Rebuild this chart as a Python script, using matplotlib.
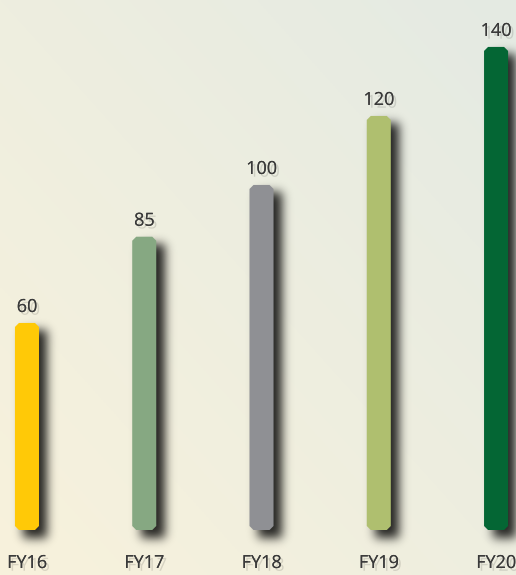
import numpy as np
import matplotlib
matplotlib.use("Agg")
import matplotlib.pyplot as plt
from matplotlib.patches import Polygon
import matplotlib.patheffects as pe

years = ["FY16", "FY17", "FY18", "FY19", "FY20"]
values = [60, 85, 100, 120, 140]
colors = ["#ffc907", "#86a882", "#8f9094", "#afbf6f", "#046634"]

W, H = 516, 575
fig = plt.figure(figsize=(W / 100, H / 100), dpi=100)

# background gradient (cream bottom-left -> pale grey-green top-right)
bg = fig.add_axes([0, 0, 1, 1], zorder=-2)
gx, gy = np.meshgrid(np.linspace(0, 1, 200), np.linspace(0, 1, 200))
t = np.clip((gx + gy) / 2, 0, 1)[..., None]
c0 = np.array([0xf8, 0xf2, 0xdc]) / 255
c1 = np.array([0xe4, 0xea, 0xe3]) / 255
bg.imshow(c0 * (1 - t) + c1 * t, extent=[0, 1, 0, 1], origin="lower", aspect="auto")
bg.axis("off")

ax = fig.add_axes([0, 45 / H, 1, 1 - 45 / H])
ax.set_xlim(-0.23, 4.17)
ax.set_ylim(0, 153.6)
ax.axis("off")

bw = 0.205  # bar width in data units
px_x = (4.17 + 0.23) / W
px_y = 153.6 / (H - 45)
cut = 4  # chamfer size in pixels

# drop shadow raster
mask = np.zeros((H, W))
for i, v in enumerate(values):
    x0, y0 = ax.transData.transform((i - bw / 2, 0))
    x1, y1 = ax.transData.transform((i + bw / 2, v))
    dx, dy = 9, 8
    mask[int(H - y1 + dy):int(H - y0 + dy), int(x0 + dx):int(x1 + dx)] = 1
k = np.exp(-0.5 * (np.arange(-15, 16) / 5.0) ** 2)
k /= k.sum()
mask = np.apply_along_axis(lambda r: np.convolve(r, k, mode="same"), 1, mask)
mask = np.apply_along_axis(lambda c: np.convolve(c, k, mode="same"), 0, mask)
sh = np.zeros((H, W, 4))
sh[..., 3] = mask * 0.85
shax = fig.add_axes([0, 0, 1, 1], zorder=-1)
shax.imshow(sh, extent=[0, 1, 0, 1], aspect="auto")
shax.axis("off")
shax.patch.set_alpha(0)

txt_fx = [pe.withSimplePatchShadow(offset=(2, -2), alpha=0.12, shadow_rgbFace="black"), pe.Normal()]

for i, (v, c) in enumerate(zip(values, colors)):
    l, r = i - bw / 2, i + bw / 2
    cx, cy = cut * px_x, cut * px_y
    pts = [(l, cy), (l + cx, 0), (r - cx, 0), (r, cy), (r, v - cy),
           (r - cx, v), (l + cx, v), (l, v - cy)]
    ax.add_patch(Polygon(pts, closed=True, facecolor=c, edgecolor="none"))
    ax.text(i, v + 7 * px_y, str(v), ha="center", va="bottom", fontsize=13,
            family="Open Sans", color="#3a3a3a", path_effects=txt_fx)
    ax.text(i, -33 * px_y, years[i], ha="center", va="center", fontsize=13,
            family="Open Sans", color="#3a3a3a", path_effects=txt_fx)

fig.savefig("out.png", dpi=100)
